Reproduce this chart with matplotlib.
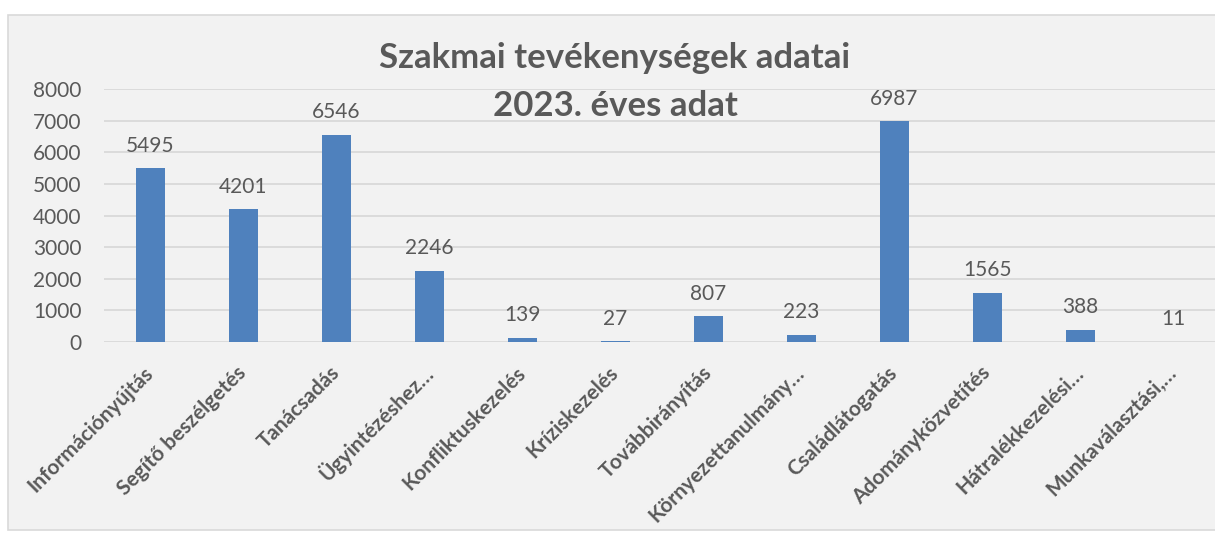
import matplotlib
matplotlib.use("Agg")
import matplotlib.pyplot as plt
from matplotlib.patches import Rectangle

categories = [
    "Információnyújtás", "Segítő beszélgetés", "Tanácsadás", "Ügyintézéshez…",
    "Konfliktuskezelés", "Kríziskezelés", "Továbbirányítás", "Környezettanulmány…",
    "Családlátogatás", "Adományközvetítés", "Hátralékkezelési…", "Munkaválasztási,…",
]
values = [5495, 4201, 6546, 2246, 139, 27, 807, 223, 6987, 1565, 388, 11]
yticks = [0, 1000, 2000, 3000, 4000, 5000, 6000, 7000, 8000]
title = "Szakmai tevékenységek adatai\n2023. éves adat"

TEXT = "#595959"
BAR = "#4F81BD"
GRID = "#D9D9D9"
BG = "#F2F2F2"

plt.rcParams["font.family"] = ["Lato", "DejaVu Sans"]

W, H = 1215, 536
fig = plt.figure(figsize=(W / 100, H / 100), dpi=100)
fig.patch.set_facecolor("white")

# chart area (grey panel with thin border)
fig.patches.append(Rectangle((8 / W, 1 - 530 / H), (W + 10 - 8) / W, (530 - 15) / H,
                             transform=fig.transFigure, facecolor=BG,
                             edgecolor=GRID, linewidth=1.2, zorder=-5))

left, right, top, bottom = 104, 1220, 89, 342
ax = fig.add_axes([left / W, 1 - bottom / H, (right - left) / W, (bottom - top) / H])
ax.set_facecolor("none")
ax.set_zorder(1)

x = range(len(categories))
bars = ax.bar(x, values, width=0.32, color=BAR, zorder=3)
ax.set_xlim(-0.5, len(categories) - 0.5)
ax.set_ylim(0, 8000)
ax.set_yticks(yticks)
ax.set_yticklabels([str(t) for t in yticks], fontsize=15, color=TEXT)
ax.yaxis.grid(True, color=GRID, linewidth=1.3, zorder=0)
ax.set_axisbelow(True)
for s in ax.spines.values():
    s.set_visible(False)
ax.tick_params(axis="y", length=0, pad=16)
ax.tick_params(axis="x", length=0, pad=20)

ax.set_xticks(list(x))
ax.set_xticklabels(categories, rotation=45, ha="right", va="center",
                   rotation_mode="anchor", fontsize=15, fontweight="bold", color=TEXT)

for b, v in zip(bars, values):
    ax.annotate(str(v), (b.get_x() + b.get_width() / 2, v), xytext=(0, 9),
                textcoords="offset points", ha="center", va="bottom",
                fontsize=15, color=TEXT)

fig.text(615 / W, 1 - 42 / H, title, ha="center", va="top", fontsize=25,
         fontweight="bold", color=TEXT, linespacing=1.6, zorder=5)

fig.savefig("out.png", dpi=100)
